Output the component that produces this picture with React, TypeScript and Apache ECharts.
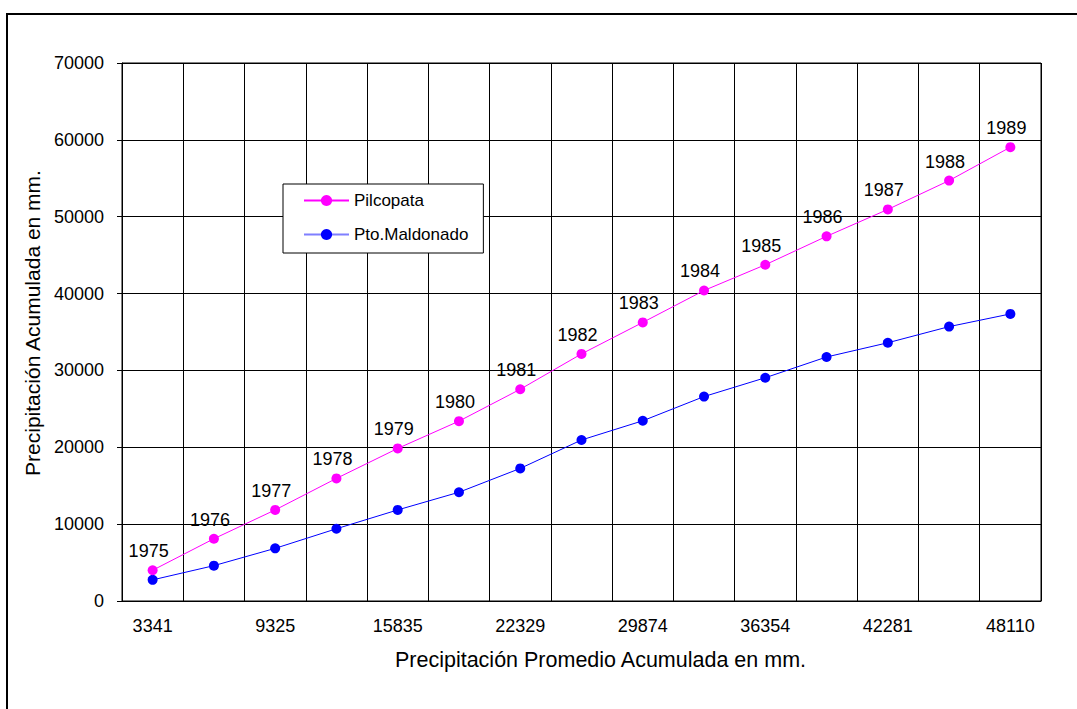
import React, { useEffect, useRef } from "react";
import * as echarts from "echarts";

// Years, one per category; also printed above each Pilcopata point
const years = [
  "1975", "1976", "1977", "1978", "1979", "1980", "1981", "1982",
  "1983", "1984", "1985", "1986", "1987", "1988", "1989",
];

// Tick labels under the axis (every second category is labelled)
const xTickLabels = [
  "3341", "", "9325", "", "15835", "", "22329", "",
  "29874", "", "36354", "", "42281", "", "48110",
];

// Cumulative precipitation (mm)
const pilcopata = [
  4000, 8100, 11850, 15950, 19850, 23400, 27550, 32150,
  36250, 40400, 43750, 47450, 50950, 54700, 59050,
];
const ptoMaldonado = [
  2750, 4600, 6850, 9400, 11850, 14150, 17250, 20950,
  23450, 26600, 29050, 31750, 33600, 35700, 37350,
];

const yTicks = { min: 0, max: 70000, interval: 10000 };

const FONT = 'Arial, "Liberation Sans", sans-serif';

export default function App() {
  const ref = useRef<HTMLDivElement>(null);

  useEffect(() => {
    if (!ref.current) return;
    const chart = echarts.init(ref.current, undefined, { renderer: "svg" });

    chart.setOption({
      animation: false,
      backgroundColor: "#ffffff",
      textStyle: { fontFamily: FONT },
      graphic: [
        {
          type: "rect",
          shape: { x: 7, y: 14, width: 1200, height: 1000 },
          style: { fill: "none", stroke: "#000", lineWidth: 2 },
          silent: true,
        },
      ],
      grid: {
        left: 122,
        top: 63,
        right: 36,
        bottom: 108,
        show: true,
        borderColor: "#000",
        borderWidth: 1,
      },
      legend: {
        orient: "vertical",
        left: 283,
        top: 184,
        backgroundColor: "#fff",
        borderColor: "#000",
        borderWidth: 1,
        padding: [8, 15, 10, 20],
        itemGap: 17,
        itemWidth: 45,
        itemHeight: 14,
        textStyle: { fontSize: 17, color: "#000", fontFamily: FONT },
        data: [
          { name: "Pilcopata" },
          { name: "Pto.Maldonado", lineStyle: { color: "#7f7fff" } },
        ],
      },
      xAxis: {
        type: "category",
        data: years,
        boundaryGap: true,
        name: "Precipitación Promedio Acumulada en mm.",
        nameLocation: "middle",
        nameGap: 48,
        nameTextStyle: {
          fontSize: 21.5,
          color: "#000",
          fontFamily: FONT,
          padding: [0, 0, 0, 38],
        },
        axisLine: { lineStyle: { color: "#000", width: 1 } },
        axisTick: { show: true, inside: true, length: 5, lineStyle: { color: "#000" } },
        axisLabel: {
          interval: 0,
          margin: 16,
          fontSize: 18,
          color: "#000",
          formatter: (_v: string, i: number) => xTickLabels[i],
        },
        splitLine: { show: true, interval: 0, lineStyle: { color: "#000", width: 1 } },
      },
      yAxis: {
        type: "value",
        min: yTicks.min,
        max: yTicks.max,
        interval: yTicks.interval,
        name: "Precipitación Acumulada en mm.",
        nameLocation: "middle",
        nameRotate: 90,
        nameGap: 75,
        nameTextStyle: {
          fontSize: 21,
          color: "#000",
          fontFamily: FONT,
          padding: [0, 0, 0, 18],
        },
        axisLine: { show: true, lineStyle: { color: "#000", width: 1 } },
        axisTick: { show: true, length: 5, lineStyle: { color: "#000" } },
        axisLabel: {
          margin: 18,
          fontSize: 18,
          color: "#000",
          formatter: (v: number) => String(v),
        },
        splitLine: { show: true, lineStyle: { color: "#000", width: 1 } },
      },
      series: [
        {
          name: "Pilcopata",
          type: "line",
          data: pilcopata,
          symbol: "circle",
          symbolSize: 10,
          itemStyle: { color: "#ff00ff" },
          lineStyle: { color: "#ff00ff", width: 1 },
          label: {
            show: true,
            position: "top",
            distance: 5,
            offset: [-4, 0],
            fontSize: 18,
            color: "#000",
            fontFamily: FONT,
            formatter: (p: any) => p.name,
          },
          z: 3,
        },
        {
          name: "Pto.Maldonado",
          type: "line",
          data: ptoMaldonado,
          symbol: "circle",
          symbolSize: 10,
          itemStyle: { color: "#0000ff" },
          lineStyle: { color: "#0000ff", width: 1 },
          z: 2,
        },
      ],
    });

    return () => chart.dispose();
  }, []);

  return (
    <div
      ref={ref}
      style={{ position: "absolute", left: 0, top: 0, width: 1077, height: 709 }}
    />
  );
}
